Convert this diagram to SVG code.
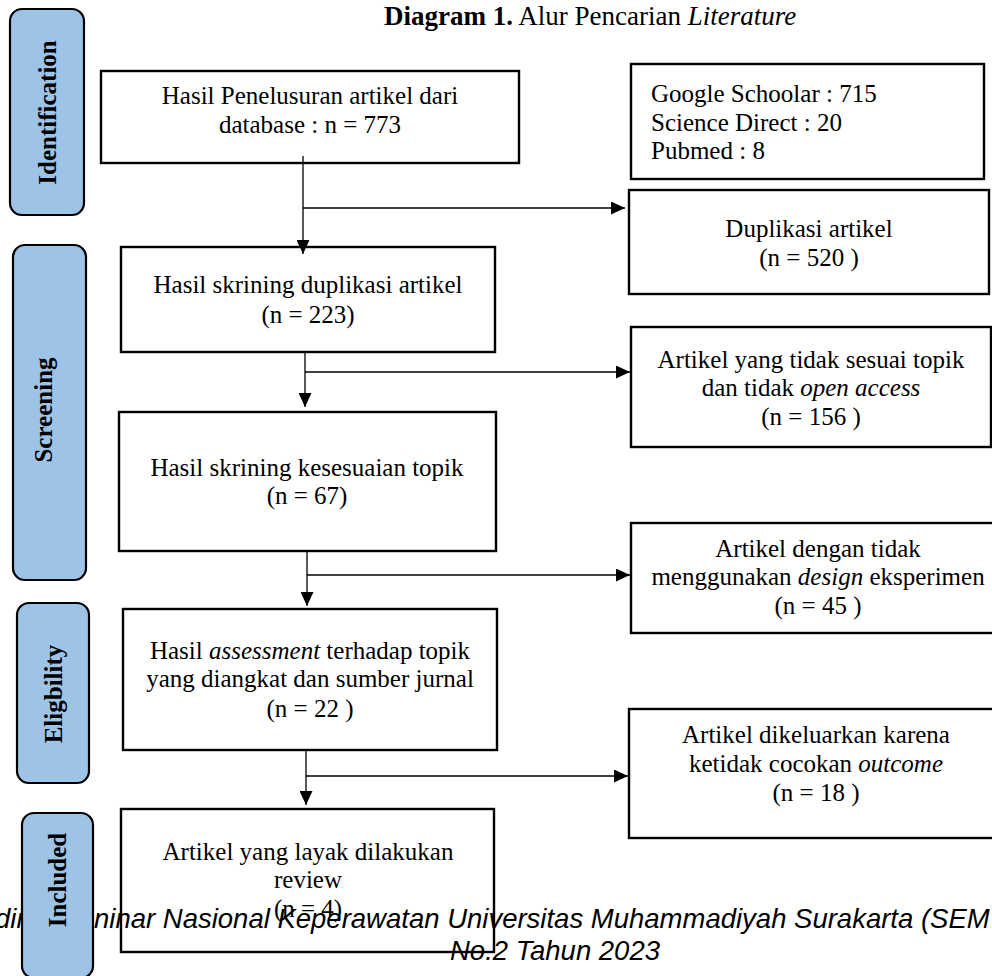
<svg xmlns="http://www.w3.org/2000/svg" width="992" height="976" viewBox="0 0 992 976">
<defs>
<style>
.box{fill:#fff;stroke:#000;stroke-width:2.4}
.pill{fill:#9dc3e6;stroke:#000;stroke-width:2.2}
.t{font-family:"Liberation Serif","Times New Roman",serif;font-size:25px;fill:#000}
.c{text-anchor:middle}
.pl{font-family:"Liberation Serif","Times New Roman",serif;font-size:25px;font-weight:bold;fill:#000;text-anchor:middle}
.it{font-style:italic}
.con{fill:none;stroke:#000;stroke-width:1.3}
.arr{marker-end:url(#ah)}
.foot{font-family:"Liberation Sans",Arial,sans-serif;font-size:27.5px;font-style:italic;fill:#000}
</style>
<marker id="ah" markerUnits="userSpaceOnUse" markerWidth="14" markerHeight="13" refX="14" refY="6.5" orient="auto">
<path d="M0,0 L14,6.5 L0,13 z" fill="#000"/>
</marker>
</defs>
<rect width="992" height="976" fill="#fff"/>

<text id="title" class="t" x="384" y="24.5" style="font-size:27px"><tspan font-weight="bold">Diagram 1.</tspan> Alur Pencarian <tspan class="it">Literature</tspan></text>

<g id="n-search">
<rect class="box" x="101" y="71" width="418" height="92"/>
<text class="t c" x="310" y="104">Hasil Penelusuran artikel dari</text>
<text class="t c" x="310" y="133">database : n = 773</text>
</g>
<g id="n-sources">
<rect class="box" x="631" y="64" width="353" height="115"/>
<text class="t" x="651" y="102">Google Schoolar : 715</text>
<text class="t" x="651" y="131">Science Direct : 20</text>
<text class="t" x="651" y="159">Pubmed : 8</text>
</g>
<g id="n-dup">
<rect class="box" x="629" y="190" width="360" height="104"/>
<text class="t c" x="809" y="237">Duplikasi artikel</text>
<text class="t c" x="809" y="266">(n = 520 )</text>
</g>
<g id="n-screen1">
<rect class="box" x="121" y="247" width="374" height="105"/>
<text class="t c" x="308" y="293">Hasil skrining duplikasi artikel</text>
<text class="t c" x="308" y="323">(n = 223)</text>
</g>
<g id="n-excl1">
<rect class="box" x="631" y="327" width="360" height="120"/>
<text class="t c" x="811" y="368">Artikel yang tidak sesuai topik</text>
<text class="t c" x="811" y="396">dan tidak <tspan class="it">open access</tspan></text>
<text class="t c" x="811" y="425">(n = 156 )</text>
</g>
<g id="n-screen2">
<rect class="box" x="119" y="412" width="377" height="139"/>
<text class="t c" x="307" y="476">Hasil skrining kesesuaian topik</text>
<text class="t c" x="307" y="504">(n = 67)</text>
</g>
<g id="n-excl2">
<rect class="box" x="631" y="523" width="374" height="110"/>
<text class="t c" x="818" y="557">Artikel dengan tidak</text>
<text class="t c" x="818" y="585">menggunakan <tspan class="it">design</tspan> eksperimen</text>
<text class="t c" x="818" y="614">(n = 45 )</text>
</g>
<g id="n-assess">
<rect class="box" x="123" y="609" width="374" height="141"/>
<text class="t c" x="310" y="659">Hasil <tspan class="it">assessment</tspan> terhadap topik</text>
<text class="t c" x="310" y="687">yang diangkat dan sumber jurnal</text>
<text class="t c" x="310" y="717">(n = 22 )</text>
</g>
<g id="n-excl3">
<rect class="box" x="629" y="709" width="374" height="129"/>
<text class="t c" x="816" y="743">Artikel dikeluarkan karena</text>
<text class="t c" x="816" y="772">ketidak cocokan <tspan class="it">outcome</tspan></text>
<text class="t c" x="816" y="801">(n = 18 )</text>
</g>
<g id="n-included">
<rect class="box" x="121" y="809" width="373" height="143"/>
<text class="t c" x="308" y="860">Artikel yang layak dilakukan</text>
<text class="t c" x="308" y="888">review</text>
<text class="t c" x="308" y="917">(n = 4)</text>
</g>

<g id="connectors">
<path class="con arr" d="M303,156 V254"/>
<path class="con arr" d="M303,208 H625"/>
<path class="con arr" d="M305,352 V407"/>
<path class="con arr" d="M305,372 H630"/>
<path class="con arr" d="M307,551 V606"/>
<path class="con arr" d="M307,575 H630"/>
<path class="con arr" d="M306,750 V805"/>
<path class="con arr" d="M306,776 H628"/>
</g>

<g id="footer">
<text class="foot" x="-5" y="928">dir</text>
<text class="foot" x="94" y="928">ninar Nasional Keperawatan Universitas Muhammadiyah Surakarta (SEM</text>
<text class="foot" x="450" y="960">No.2 Tahun 2023</text>
</g>

<g id="stage-identification">
<rect class="pill" x="10" y="9" width="74" height="206" rx="12"/>
<text class="pl" transform="translate(56,112.5) rotate(-90)">Identification</text>
</g>
<g id="stage-screening">
<rect class="pill" x="13" y="245" width="73" height="335" rx="12"/>
<text class="pl" transform="translate(52,410) rotate(-90)">Screening</text>
</g>
<g id="stage-eligibility">
<rect class="pill" x="17" y="603" width="72" height="180" rx="12"/>
<text class="pl" transform="translate(62,694) rotate(-90)">Eligbility</text>
</g>
<g id="stage-included">
<rect class="pill" x="22" y="813" width="71" height="165" rx="12"/>
<text class="pl" transform="translate(66,880) rotate(-90)">Included</text>
</g>
</svg>
